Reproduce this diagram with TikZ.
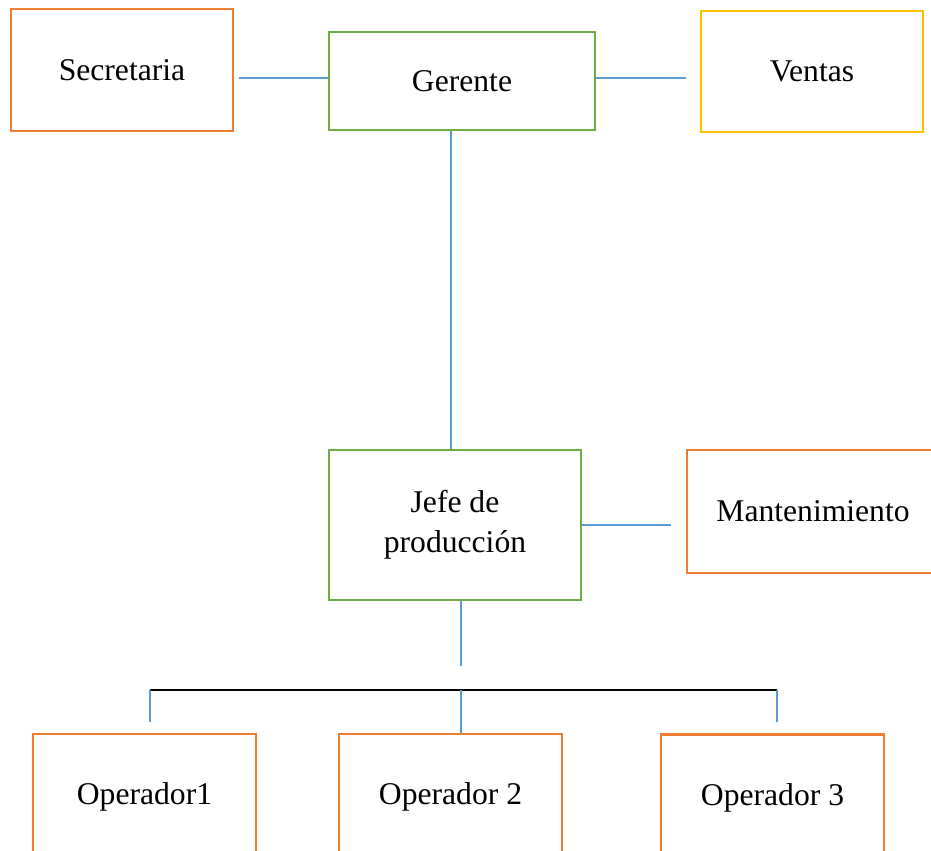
\documentclass[tikz,border=0pt]{standalone}
\usepackage{fontspec}
\setmainfont{Liberation Serif}
\usepackage{xcolor}
\usetikzlibrary{positioning}

\definecolor{naranja}{HTML}{ED7D31}
\definecolor{verde}{HTML}{70AD47}
\definecolor{amarillo}{HTML}{FFC000}
\definecolor{azul}{HTML}{5B9BD5}

\begin{document}
\begin{tikzpicture}[
    x=0.02cm, y=-0.02cm,
    cargo/.style={rectangle, draw, line width=1.6pt, align=center, inner sep=2pt, font=\fontsize{18}{22.7}\selectfont},
    jefebox/.style={cargo, draw=verde},
    subbox/.style={cargo, draw=naranja},
    link/.style={draw=azul, line width=0.6pt},
    bar/.style={draw=black, line width=0.9pt}
]
\useasboundingbox (0,0) rectangle (931,850);
\clip (0,0) rectangle (931,850);

% Top row
\node[jefebox, minimum width=5.32cm, minimum height=1.96cm] (gerente) at (462,81) {Gerente};
\node[subbox, minimum width=4.44cm, minimum height=2.44cm] (secre) at (122,70) {Secretaria};
\node[cargo, draw=amarillo, minimum width=4.44cm, minimum height=2.42cm] (ventas) at (812,71.5) {Ventas};

% Middle row
\node[jefebox, minimum width=5.04cm, minimum height=3cm] (jefe) at (455,525) {Jefe de\\producción};
\node[subbox, minimum width=5.04cm, minimum height=2.46cm] (mant) at (813,511.5) {Mantenimiento};

% Operators
\node[subbox, minimum width=4.46cm, minimum height=2.52cm] (op1) at (144.5,797) {Operador1};
\node[subbox, minimum width=4.46cm, minimum height=2.52cm] (op2) at (450.5,797) {Operador 2};
\node[subbox, minimum width=4.46cm, minimum height=2.52cm] (op3) at (772.5,797.5) {Operador 3};

% Lines - top
\coordinate[yshift=0.06cm] (gw) at (gerente.west);
\draw[link, shorten >=0.1cm] (gw) -- (secre.east |- gw);
\draw[link, shorten >=0.28cm] (gw -| gerente.east) -- (ventas.west |- gw);
\coordinate[xshift=-0.22cm] (gs) at (gerente.south);
\draw[link] (gs) -- (gs |- jefe.north);

% Lines - middle
\draw[link, shorten >=0.3cm] (jefe.east) -- (jefe.east -| mant.west);
\coordinate[xshift=0.12cm] (js) at (jefe.south);
\coordinate[below=1.3cm of js] (split);
\draw[link] (js) -- (split);

% Bar to operators
\coordinate[xshift=0.11cm] (barl) at (op1.north |- 0,690);
\coordinate[xshift=0.09cm] (barr) at (op3.north |- 0,690);
\draw[bar] (barl) -- (barr);
\draw[link, shorten >=0.22cm] (barl) -- (barl |- op1.north);
\draw[link] (split |- barl) -- (split |- op2.north);
\draw[link, shorten >=0.22cm] (barr) -- (barr |- op3.north);

\end{tikzpicture}
\end{document}
